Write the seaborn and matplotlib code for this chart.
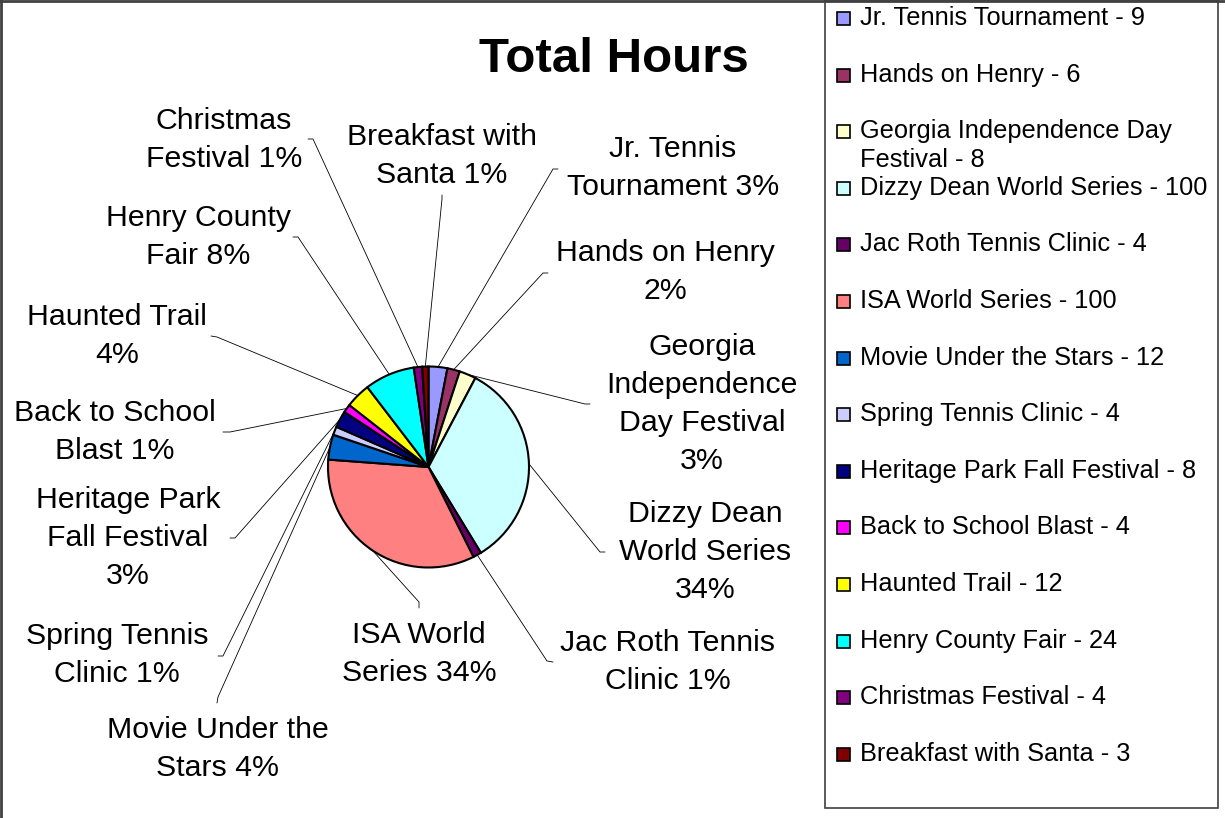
import numpy as np
import seaborn as sns
import matplotlib.pyplot as plt
from matplotlib.patches import Rectangle

events = ["Jr. Tennis Tournament", "Hands on Henry", "Georgia Independence Day Festival",
          "Dizzy Dean World Series", "Jac Roth Tennis Clinic", "ISA World Series",
          "Movie Under the Stars", "Spring Tennis Clinic", "Heritage Park Fall Festival",
          "Back to School Blast", "Haunted Trail", "Henry County Fair",
          "Christmas Festival", "Breakfast with Santa"]
hours = [9, 6, 8, 100, 4, 100, 12, 4, 8, 4, 12, 24, 4, 3]
# wrapped slice labels, percent filled in later
slice_labels = ["Jr. Tennis\nTournament {}%", "Hands on Henry\n{}%",
                "Georgia\nIndependence\nDay Festival\n{}%", "Dizzy Dean\nWorld Series\n{}%",
                "Jac Roth Tennis\nClinic {}%", "ISA World\nSeries {}%",
                "Movie Under the\nStars {}%", "Spring Tennis\nClinic {}%",
                "Heritage Park\nFall Festival\n{}%", "Back to School\nBlast {}%",
                "Haunted Trail\n{}%", "Henry County\nFair {}%",
                "Christmas\nFestival {}%", "Breakfast with\nSanta {}%"]
legend_labels = ["Jr. Tennis Tournament - 9", "Hands on Henry - 6",
                 "Georgia Independence Day\nFestival - 8", "Dizzy Dean World Series - 100",
                 "Jac Roth Tennis Clinic - 4", "ISA World Series - 100",
                 "Movie Under the Stars - 12", "Spring Tennis Clinic - 4",
                 "Heritage Park Fall Festival - 8", "Back to School Blast - 4",
                 "Haunted Trail - 12", "Henry County Fair - 24",
                 "Christmas Festival - 4", "Breakfast with Santa - 3"]
colors = ["#9999FF", "#993366", "#FFFFCC", "#CCFFFF", "#660066", "#FF8080", "#0066CC",
          "#CCCCFF", "#000080", "#FF00FF", "#FFFF00", "#00FFFF", "#800080", "#800000"]

# layout (pixel positions, y measured from top)
W, H = 1225, 818
text_pos = [(673, 168), (665, 272), (702, 404), (705, 552), (668, 662), (419, 654),
            (218, 749), (117, 655), (128, 538), (115, 432), (117, 336), (198, 237),
            (224, 140), (442, 156)]
leader_corner = [(553, 169), (543, 273), (585, 404), (600, 552), (547, 661), (419, 602),
                 (218, 697), (223, 656), (235, 538), (230, 432), (217, 337), (298, 237),
                 (313, 139), (442, 199)]
leader_end = [(558, 169), (548, 273), (590, 404), (605, 552), (553, 662), (419, 608),
              (217, 703), (218, 656), (230, 538), (223, 432), (211, 336), (293, 237),
              (308, 139), (442, 195)]

sns.set_theme(style='white')
plt.rcParams['font.family'] = ['Liberation Sans', 'DejaVu Sans']
plt.rcParams['text.color'] = 'black'

fig = plt.figure(figsize=(W / 100, H / 100), dpi=100)
ax = fig.add_axes([0, 0, 1, 1])

cx, cy, r = 428.5, H - 467, 100.5
palette = sns.color_palette(colors)
wedges, _ = ax.pie(hours, colors=palette, startangle=90, counterclock=False,
                   center=(cx, cy), radius=r,
                   wedgeprops=dict(edgecolor='black', linewidth=1.5))
ax.set_xlim(0, W)
ax.set_ylim(0, H)
ax.set_aspect('equal')
ax.axis('off')

total = sum(hours)
for w, v, lab, tp, cp, ep in zip(wedges, hours, slice_labels, text_pos, leader_corner, leader_end):
    mid = np.deg2rad((w.theta1 + w.theta2) / 2)
    px, py = cx + r * np.cos(mid), cy + r * np.sin(mid)
    ax.plot([px, cp[0], ep[0]], [py, H - cp[1], H - ep[1]], color='black', lw=0.6)
    ax.text(tp[0], H - tp[1], lab.format(round(v / total * 100)), ha='center', va='center',
            fontsize=21.8, linespacing=1.45, color='black')

ax.text(614, H - 60, "Total Hours", ha='center', va='center', fontsize=35.5,
        fontweight='bold', color='black')

# legend box
ax.add_patch(Rectangle((825, H - 808), 393, 808, facecolor='white', edgecolor='#404040',
                       lw=1.2, zorder=3))
for i, (lab, c) in enumerate(zip(legend_labels, palette)):
    yy = H - (18 + 56.6 * i)
    ax.add_patch(Rectangle((836.5, yy - 7), 13, 13, facecolor=c, edgecolor='black',
                           lw=1.2, zorder=4))
    if "\n" in lab:
        first, second = lab.split("\n")
        ax.text(860, yy, first, ha='left', va='center', fontsize=18.3, color='black', zorder=5)
        ax.text(860, yy - 29, second, ha='left', va='center', fontsize=18.3, color='black', zorder=5)
    else:
        ax.text(860, yy, lab, ha='left', va='center', fontsize=18.3, color='black', zorder=5)

# outer frame (left and top)
ax.plot([1, 1], [0, H], color='#404040', lw=2, zorder=6)
ax.plot([0, W], [H - 1, H - 1], color='#404040', lw=2, zorder=6)

fig.savefig('out.png', dpi=100)
